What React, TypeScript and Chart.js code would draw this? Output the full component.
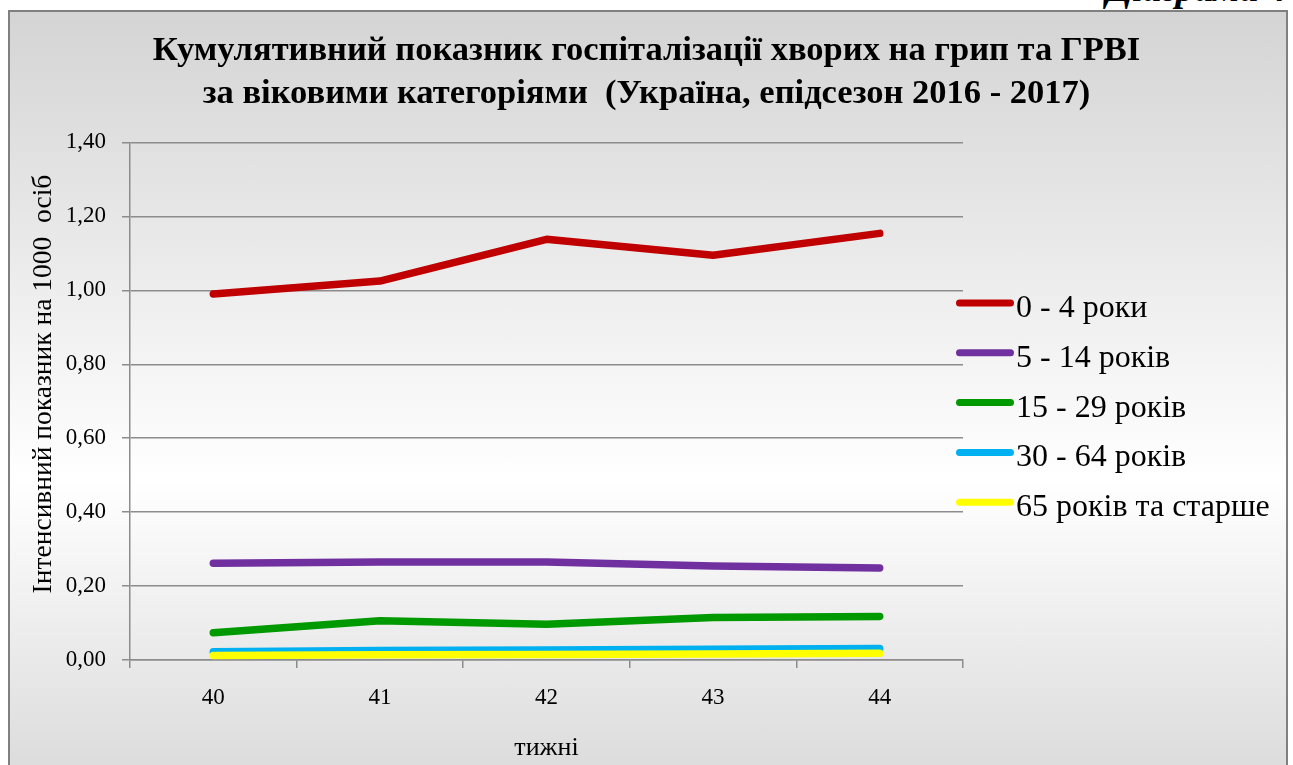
import React, { useEffect, useRef } from 'react';
import { Chart, registerables } from 'chart.js';

Chart.register(...registerables);

const weeks = ['40', '41', '42', '43', '44'];
const seriesLabels = ['0 - 4 роки', '5 - 14 років', '15 - 29 років', '30 - 64 років', '65 років та старше'];
const age0to4 = [0.99, 1.025, 1.138, 1.095, 1.154];
const age5to14 = [0.262, 0.265, 0.265, 0.254, 0.249];
const age15to29 = [0.074, 0.106, 0.097, 0.115, 0.118];
const age30to64 = [0.022, 0.026, 0.027, 0.029, 0.031];
const age65plus = [0.012, 0.014, 0.015, 0.016, 0.018];
const seriesColors = ['#C00000', '#7030A0', '#009900', '#00B0F0', '#FFFF00'];
const yTickValues = [0, 0.2, 0.4, 0.6, 0.8, 1.0, 1.2, 1.4];
const titleLines = [
  'Кумулятивний показник госпіталізації хворих на грип та ГРВІ',
  'за віковими категоріями  (Україна, епідсезон 2016 - 2017)',
];
const yAxisTitle = '     Інтенсивний показник на 1000  осіб';
const xAxisTitle = 'тижні';
const cornerCaption = 'Діаграма 4';

const SERIF = '"Liberation Serif", "Times New Roman", serif';
const GRID = '#8c8c8c';

const sideLegend = {
  id: 'sideLegend',
  afterDraw(chart: any) {
    const ctx = chart.ctx as CanvasRenderingContext2D;
    const top = 303;
    const step = 49.8;
    ctx.save();
    chart.data.datasets.forEach((ds: any, i: number) => {
      const y = top + i * step;
      ctx.strokeStyle = ds.borderColor;
      ctx.lineWidth = 7;
      ctx.lineCap = 'round';
      ctx.beginPath();
      ctx.moveTo(959.5, y);
      ctx.lineTo(1010.5, y);
      ctx.stroke();
      ctx.fillStyle = '#000';
      ctx.font = `32px ${SERIF}`;
      ctx.textBaseline = 'alphabetic';
      ctx.textAlign = 'left';
      ctx.fillText(ds.label, 1016, y + 14);
    });
    ctx.restore();
  },
};

export default function App() {
  const ref = useRef<HTMLCanvasElement>(null);

  useEffect(() => {
    const values = [age0to4, age5to14, age15to29, age30to64, age65plus];
    const chart = new Chart(ref.current as HTMLCanvasElement, {
      type: 'line',
      data: {
        labels: weeks,
        datasets: values.map((v, i) => ({
          label: seriesLabels[i],
          data: v,
          borderColor: seriesColors[i],
          backgroundColor: seriesColors[i],
          borderWidth: 7.5,
          pointRadius: 0,
          pointHoverRadius: 0,
          tension: 0,
          fill: false,
          borderCapStyle: 'round' as const,
          borderJoinStyle: 'round' as const,
          order: values.length - i,
          yAxisID: 'y',
        })),
      },
      options: {
        responsive: false,
        animation: false,
        devicePixelRatio: 1,
        layout: { padding: 0 },
        plugins: {
          legend: { display: false },
          tooltip: { enabled: false },
          title: {
            display: true,
            text: titleLines,
            color: '#000',
            font: { family: SERIF, size: 34.5, weight: 'bold', lineHeight: 1.26 },
            padding: { top: 29, bottom: 26.5 },
          },
        },
        scales: {
          x: {
            type: 'category',
            offset: true,
            grid: {
              offset: true,
              drawOnChartArea: false,
              drawTicks: true,
              tickLength: 8,
              color: GRID,
              lineWidth: 1.5,
            },
            border: { display: true, color: GRID, width: 1.5 },
            ticks: { color: '#000', font: { family: SERIF, size: 23 }, padding: 16, maxRotation: 0 },
            title: {
              display: true,
              text: xAxisTitle,
              color: '#000',
              font: { family: SERIF, size: 26 },
              padding: { top: 0, bottom: 1.5 },
            },
            afterFit: (s: any) => {
              s.height = 105;
            },
          },
          y: {
            type: 'linear',
            position: 'left',
            min: 0,
            max: 1.4,
            afterBuildTicks: (s: any) => {
              s.ticks = yTickValues.map((v) => ({ value: v }));
            },
            ticks: {
              color: '#000',
              font: { family: SERIF, size: 23 },
              padding: 16,
              callback: (v: any) => Number(v).toFixed(2).replace('.', ','),
            },
            grid: { color: GRID, lineWidth: 1.5, tickLength: 8, drawTicks: true },
            border: { display: true, color: GRID, width: 1.5 },
            title: {
              display: true,
              text: yAxisTitle,
              color: '#000',
              font: { family: SERIF, size: 27.5 },
              padding: { top: 27, bottom: 0 },
            },
            afterFit: (s: any) => {
              s.width = 130;
            },
          },
          legendSpace: {
            type: 'linear',
            position: 'right',
            display: true,
            grid: { display: false, drawOnChartArea: false },
            border: { display: false },
            ticks: { display: false },
            afterFit: (s: any) => {
              s.width = 330;
            },
          },
        },
      },
      plugins: [sideLegend],
    } as any);
    return () => chart.destroy();
  }, []);

  return (
    <div style={{ position: 'absolute', left: 0, top: 0, width: 1293, height: 765, overflow: 'hidden' }}>
      <div
        style={{
          position: 'absolute',
          left: 8,
          top: 10,
          width: 1280,
          height: 760,
          boxSizing: 'border-box',
          border: '2px solid #808080',
          background: 'linear-gradient(180deg, #d4d4d4 0%, #ffffff 62%, #dcdcdc 100%)',
        }}
      />
      <div
        style={{
          position: 'absolute',
          right: 6,
          top: -31,
          font: `italic bold 38px ${SERIF}`,
          lineHeight: '38px',
          whiteSpace: 'nowrap',
          color: '#000',
        }}
      >
        {cornerCaption}
      </div>
      <canvas
        ref={ref}
        width={1293}
        height={765}
        style={{ position: 'absolute', left: 0, top: 0, width: 1293, height: 765 }}
      />
    </div>
  );
}
